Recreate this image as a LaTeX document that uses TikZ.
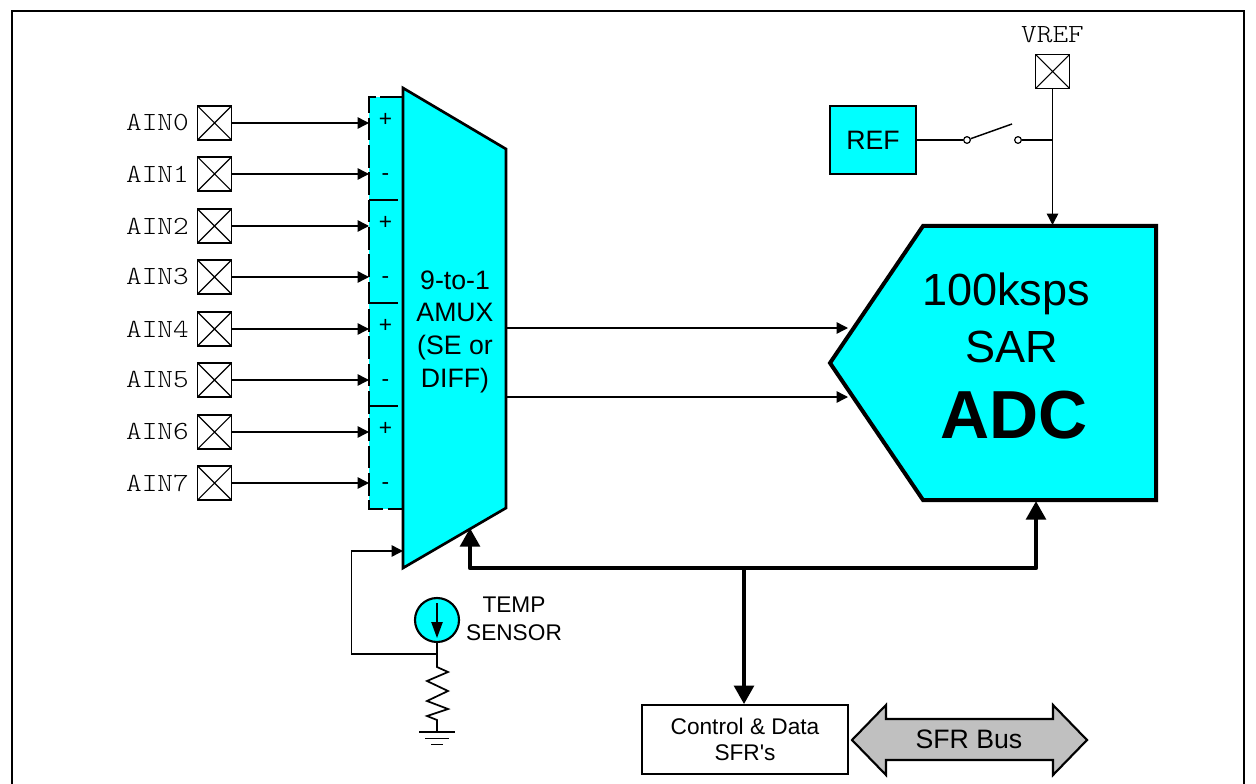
\documentclass[tikz,border=0pt]{standalone}
\usepackage{fontspec}
\setmainfont{Liberation Sans}
\newfontfamily\pinfont[FakeStretch=1.14]{Latin Modern Mono Light}
\usetikzlibrary{arrows.meta}
\definecolor{acyan}{RGB}{0,255,255}
\definecolor{agray}{RGB}{192,192,192}
\newcommand{\fs}[1]{\fontsize{#1}{#1}\selectfont}
\tikzset{
 x=0.75pt,y=-0.75pt,
 wire/.style={draw=black,line width=1.1pt},
 arr/.style={wire,-{Triangle[length=8.5pt,width=8.5pt]}},
 bus/.style={draw=black,line width=3.6pt,line join=round,-{Triangle[length=14pt,width=14.5pt]}},
 dsh/.style={line width=1.2pt,dash pattern=on 17pt off 3.5pt},
 dshh/.style={line width=1.2pt,dash pattern=on 22pt off 3pt},
 pin/.style={draw=black,line width=1.1pt,fill=white,minimum width=25.5pt,minimum height=25.5pt,inner sep=0pt,outer sep=0pt,path picture={\draw[line width=0.8pt] (path picture bounding box.north west)--(path picture bounding box.south east) (path picture bounding box.north east)--(path picture bounding box.south west);}},
 pinlabel/.style={font=\pinfont\fs{19.6},text=black,inner sep=0pt},
 lbl/.style={inner sep=0pt,align=center},
 sym/.style={font=\fs{17},inner sep=0pt},
 term/.style={circle,draw=black,line width=0.9pt,fill=white,minimum size=5pt,inner sep=0pt},
}
\begin{document}
\begin{tikzpicture}
\useasboundingbox (0,0) rectangle (1256,784);
\draw[line width=1.5pt] (12,790) -- (12,11) -- (1244,11) -- (1244,790);
% dashed block
\fill[acyan] (369,97) rectangle (403,509);
\draw[dsh] (403,97) -- (369,97) -- (369,509) -- (403,509);
\foreach \yy in {200,303,406}{\draw[dshh] (369,\yy) -- (403,\yy);}
% mux
\coordinate (muxin) at (403,551);
\coordinate (muxo1) at (506,328);
\coordinate (muxo2) at (506,397);
\coordinate (muxb) at (470,528);
\draw[line width=2pt,fill=acyan,line join=miter] (403,88) -- (506,149) -- (506,508) -- (403,568) -- cycle;
\node[lbl,font=\fs{20}] (muxt) at (455,331.5) {9-to-1\\[4.5pt]AMUX\\[4.5pt](SE or\\[4.5pt]DIFF)};
% pins
\foreach \n/\yy/\s/\sy in {0/123/+/120,1/174/-/177,2/226/+/223,3/277/-/280,4/329/+/326,5/380/-/383,6/432/+/429,7/483/-/486}{
 \node[pin] (p\n) at (214.5,\yy) {};
 \node[pinlabel,anchor=east] (l\n) at (189,\yy) {AIN\n};
 \coordinate (t\n) at (369,\yy);
 \draw[arr] (p\n) -- (t\n);
 \node[sym] (s\n) at (385.5,\sy) {\s};
}
% ADC
\draw[line width=3pt,fill=acyan,line join=miter] (923,226) -- (1156,226) -- (1156,500) -- (923,500) -- (830,363) -- cycle;
\coordinate (adct) at (1052.5,225);
\coordinate (adc1) at (848,328);
\coordinate (adc2) at (848,397);
\coordinate (adcb) at (1036,501);
\node[lbl,font=\fs{33.8}] (a1) at (1006,293.5) {100ksps};
\node[lbl,font=\fs{33.8}] (a2) at (1012,347) {SAR};
\node[lbl,font=\fs{51}\bfseries] (a3) at (1014,415) {ADC};
\draw[arr] (muxo1) -- (adc1);
\draw[arr] (muxo2) -- (adc2);
% VREF
\node[pin] (vref) at (1052.5,71.5) {};
\node[pinlabel] (vrefl) at (1052.5,34.5) {VREF};
\draw[arr] (vref) -- (adct);
% REF
\node[draw=black,line width=1.6pt,fill=acyan,minimum width=64.5pt,minimum height=51pt,inner sep=0pt,font=\fs{20}] (ref) at (873,140) {REF};
\node[term] (sw1) at (967,140) {};
\node[term] (sw2) at (1018,140) {};
\coordinate (blade) at (1012,124);
\coordinate (jn) at (1052.5,140);
\draw[wire] (ref) -- (sw1);
\draw[wire] (sw1) -- (blade);
\draw[wire] (sw2) -- (jn);
% bus
\coordinate (bl) at (470,568);
\coordinate (bm) at (744,568);
\coordinate (br) at (1036,568);
\node[draw=black,line width=1.4pt,fill=white,minimum width=154.5pt,minimum height=51.5pt,inner sep=0pt,align=center,font=\fs{17}] (ctl) at (745,739.5) {Control \& Data\\[2pt]SFR\textquotesingle s};
\draw[bus] (br) -- (bl) -- (muxb);
\draw[bus] (bm) -- (br) -- (adcb);
\draw[bus] (bm) -- (bm |- ctl.north);
% SFR bus
\draw[line width=1.6pt,fill=agray,line join=miter] (852,740) -- (886,705) -- (886,719) -- (1053,719) -- (1053,705) -- (1087,740) -- (1053,775) -- (1053,760) -- (886,760) -- (886,775) -- cycle;
\node[lbl,font=\fs{20}] (sfr) at (969,739) {SFR Bus};
% temp sensor
\node[circle,draw=black,line width=1.6pt,fill=acyan,minimum size=33pt,inner sep=0pt] (ts) at (437,620) {};
\coordinate (tsa) at (437,603);
\coordinate (tsb) at (437,638);
\draw[wire,-{Triangle[length=12pt,width=8.5pt]}] (tsa) -- (tsb);
\node[lbl,font=\fs{17}] (tst) at (514,619) {TEMP\\[4pt]SENSOR};
\coordinate (jt) at (437,654);
\coordinate (c1) at (351.5,654);
\coordinate (c2) at (351.5,551);
\draw[wire] (ts) -- (jt);
\draw[arr] (jt) -- (c1) -- (c2) -- (muxin);
\coordinate (gnd) at (437,732);
\draw[line width=1.3pt,line join=miter] (jt) -- (437,667) -- (448,672) -- (427,681) -- (448,691) -- (427,701) -- (448,709) -- (427,716) -- (437,720) -- (gnd);
\draw[line width=1.3pt] (419,732) -- (455,732) (425,738.5) -- (449,738.5) (431,744.5) -- (443,744.5);
\end{tikzpicture}
\end{document}
